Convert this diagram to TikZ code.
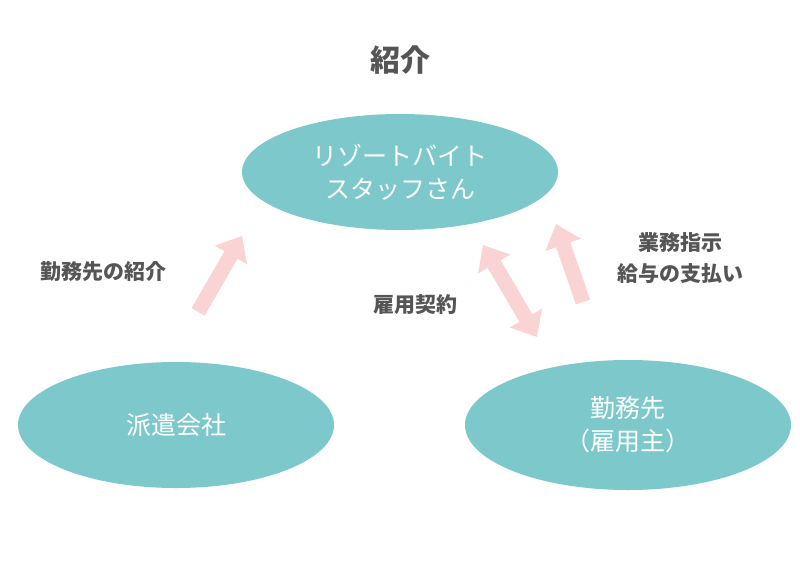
\documentclass[tikz,border=0pt]{standalone}
\usepackage{fontspec}
\setmainfont{Noto Sans CJK JP}
\usetikzlibrary{arrows.meta,shapes.geometric}
\definecolor{partyteal}{HTML}{7DC8CB}
\definecolor{pinkarrow}{HTML}{FAD3D5}
\definecolor{labelgray}{HTML}{555555}
\begin{document}
\begin{tikzpicture}[x=1pt,y=-1pt,
  party/.style = {ellipse, fill=partyteal, text=white, align=center, font=\fontsize{25}{33}\selectfont},
  tag/.style = {text=labelgray, align=center, font=\bfseries\fontsize{21}{31}\selectfont},
  flow/.style = {pinkarrow, line width=15pt, -{Triangle[width=36pt,length=22pt]}},
  flow2/.style = {flow, {Triangle[width=36pt,length=22pt]}-{Triangle[width=36pt,length=22pt]}}]
  \useasboundingbox (0,0) rectangle (800,560);
  % title
  \node[text=labelgray, font=\bfseries\fontsize{30}{36}\selectfont] (title) at (400,60) {紹介};
  % parties
  \node[party, minimum width=316pt, minimum height=116pt] (staff) at (400,172) {リゾートバイト\\スタッフさん};
  \node[party, minimum width=316pt, minimum height=126pt] (agency) at (176,425) {派遣会社};
  \node[party, minimum width=326pt, minimum height=130pt] (employer) at (628,425) {勤務先\\（雇用主）};
  % arrow ends
  \coordinate (la) at (198,312);
  \coordinate (lb) at (242,236);
  \coordinate (ma) at (483,245);
  \coordinate (mb) at (537,337);
  \coordinate (ra) at (583,302);
  \coordinate (rb) at (556,224);
  \draw[flow] (la) -- (lb);
  \draw[flow2] (ma) -- (mb);
  \draw[flow] (ra) -- (rb);
  % labels
  \node[tag] (intro) at (103,272) {勤務先の紹介};
  \node[tag] (contract) at (415,305) {雇用契約};
  \node[tag] (orders) at (680,258) {業務指示\\給与の支払い};
\end{tikzpicture}
\end{document}
